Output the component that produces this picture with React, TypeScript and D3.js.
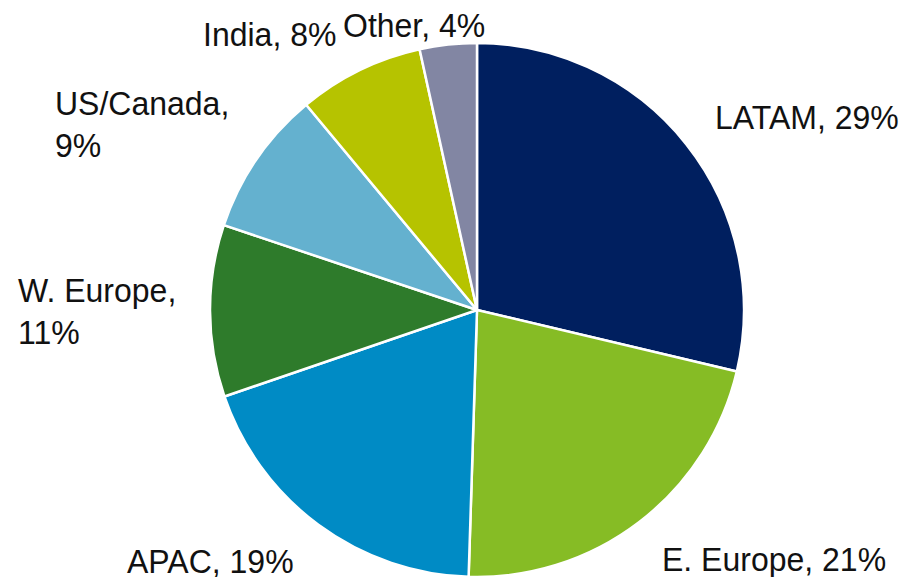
import React from "react";
import * as d3 from "d3";

const categories = ["LATAM", "E. Europe", "APAC", "W. Europe", "US/Canada", "India", "Other"];
const values = [28.7, 21.8, 19.25, 10.4, 8.8, 7.6, 3.45];
const pctLabels = ["29%", "21%", "19%", "11%", "9%", "8%", "4%"];
const colors = ["#001f5f", "#86bc25", "#008bc5", "#2e7b2b", "#64b1cf", "#b6c300", "#8286a3"];

// label layout: [x, baseline y, two-line?]
const labelPos: [number, number, boolean][] = [
  [715, 129, false],
  [662, 571, false],
  [127, 573, false],
  [18, 302, true],
  [55, 115, true],
  [203, 46, false],
  [343, 37, false],
];

export default function App() {
  const W = 906, H = 577;
  const cx = 477, cy = 310, r = 267;
  const pie = d3.pie<number>().sort(null).value((d) => d)(values);
  const arc = d3.arc<d3.PieArcDatum<number>>().innerRadius(0).outerRadius(r);
  return (
    <svg width={W} height={H} style={{ position: "absolute", left: 0, top: 0, background: "#fff" }}
      fontFamily="'Liberation Sans', Arial, sans-serif">
      <g transform={`translate(${cx},${cy})`}>
        {pie.map((p, i) => (
          <path key={i} d={arc(p) || ""} fill={colors[i]} stroke="#fff" strokeWidth={2.5} strokeLinejoin="round" />
        ))}
      </g>
      {categories.map((c, i) => {
        const [x, y, two] = labelPos[i];
        return two ? (
          <text key={i} x={x} y={y} fontSize={32} fill="#111" transform={`translate(0,${y}) scale(1,1.06) translate(0,${-y})`}>
            <tspan x={x} y={y}>{c},</tspan>
            <tspan x={x} y={y + 40}>{pctLabels[i]}</tspan>
          </text>
        ) : (
          <text key={i} x={x} y={y} fontSize={32} fill="#111" transform={`translate(0,${y}) scale(1,1.06) translate(0,${-y})`}>
            {c}, {pctLabels[i]}
          </text>
        );
      })}
    </svg>
  );
}
